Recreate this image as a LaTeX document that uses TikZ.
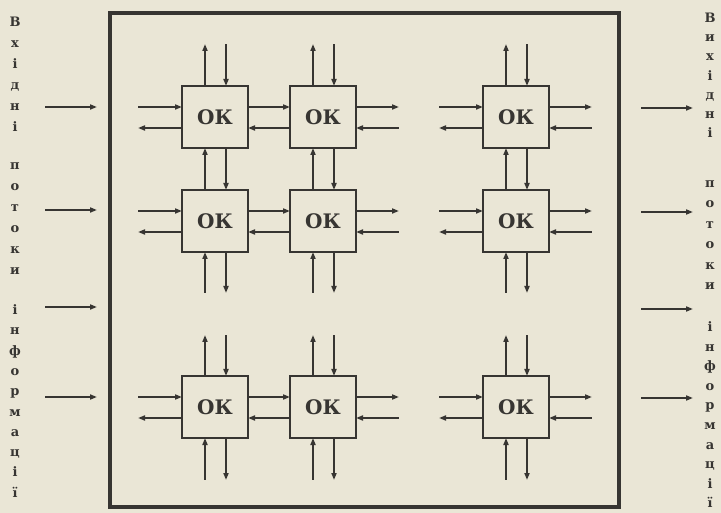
\documentclass[tikz,border=0pt]{standalone}
\usepackage{fontspec}
\setmainfont{DejaVu Serif}
\usetikzlibrary{arrows.meta}
\definecolor{paper}{RGB}{234,230,214}
\definecolor{ink}{RGB}{55,53,50}
\tikzset{
  okbox/.style={draw=ink, line width=2pt, fill=paper, minimum width=66pt, minimum height=62pt, inner sep=0pt, outer sep=0pt, text=ink, font=\bfseries\fontsize{20}{20}\selectfont},
  wire/.style={draw=ink, line width=2pt},
  arrout/.style={wire, -{Triangle[length=7pt,width=5pt]}},
  arrin/.style={wire, {Triangle[length=7pt,width=5pt]}-},
  frame/.style={draw=ink, line width=4pt},
  side/.style={inner sep=0pt, text=ink, text height=9pt, text depth=0pt, font=\bfseries\fontsize{13}{13}\selectfont}
}
\begin{document}
\begin{tikzpicture}[x=1pt,y=-1pt]
\fill[paper] (0,0) rectangle (721,513);
\useasboundingbox (0,0) rectangle (721,513);
% frame
\draw[frame] (110,13) rectangle (619,507);
% boxes
\foreach \r/\yy in {1/117,2/221,3/407}{
  \foreach \c/\xx in {1/215,2/323,3/516}{
    \node[okbox] (b\r\c) at (\xx,\yy) {ОК};
  }
}
% horizontal connectors
\foreach \r in {1,2,3}{
  % left of columns 1 and 3
  \foreach \c in {1,3}{
    \draw[arrin]  ([yshift=10pt]b\r\c.west) -- ++(-44,0);
    \draw[arrout] ([yshift=-11pt]b\r\c.west) -- ++(-44,0);
  }
  % right of columns 2 and 3
  \foreach \c in {2,3}{
    \draw[arrout] ([yshift=10pt]b\r\c.east) -- ++(43,0);
    \draw[arrin]  ([yshift=-11pt]b\r\c.east) -- ++(43,0);
  }
  % between columns 1 and 2
  \draw[arrout] ([yshift=10pt]b\r1.east) -- ([yshift=10pt]b\r2.west);
  \draw[arrout] ([yshift=-11pt]b\r2.west) -- ([yshift=-11pt]b\r1.east);
}
% vertical connectors
\foreach \c in {1,2,3}{
  % top of row 1
  \draw[arrout] ([xshift=-10pt]b1\c.north) -- ++(0,-42);
  \draw[arrin]  ([xshift=11pt]b1\c.north) -- ++(0,-42);
  % between rows 1 and 2
  \draw[arrout] ([xshift=-10pt]b2\c.north) -- ([xshift=-10pt]b1\c.south);
  \draw[arrout] ([xshift=11pt]b1\c.south) -- ([xshift=11pt]b2\c.north);
  % below row 2
  \draw[arrin]  ([xshift=-10pt]b2\c.south) -- ++(0,41);
  \draw[arrout] ([xshift=11pt]b2\c.south) -- ++(0,41);
  % above row 3
  \draw[arrout] ([xshift=-10pt]b3\c.north) -- ++(0,-41);
  \draw[arrin]  ([xshift=11pt]b3\c.north) -- ++(0,-41);
  % below row 3
  \draw[arrin]  ([xshift=-10pt]b3\c.south) -- ++(0,42);
  \draw[arrout] ([xshift=11pt]b3\c.south) -- ++(0,42);
}
% external input / output arrows
\foreach \k/\yy in {1/107,2/210,3/307,4/397}{
  \coordinate (inA\k) at (45,\yy);
  \coordinate (inB\k) at (97,\yy);
  \draw[arrout] (inA\k) -- (inB\k);
}
\foreach \k/\yy in {1/108,2/212,3/309,4/398}{
  \coordinate (outA\k) at (641,\yy);
  \coordinate (outB\k) at (693,\yy);
  \draw[arrout] (outA\k) -- (outB\k);
}
% left vertical text
\foreach \l [count=\i from 0] in {В,х,і,д,н,і}
  \node[side] (lw1\i) at (15,{22+\i*21}) {\l};
\foreach \l [count=\i from 0] in {п,о,т,о,к,и}
  \node[side] (lw2\i) at (15,{165+\i*21}) {\l};
\foreach \l [count=\i from 0] in {і,н,ф,о,р,м,а,ц,і,ї}
  \node[side] (lw3\i) at (15,{310+\i*20.3}) {\l};
% right vertical text
\foreach \l [count=\i from 0] in {В,и,х,і,д,н,і}
  \node[side] (rw1\i) at (710,{18+\i*19.2}) {\l};
\foreach \l [count=\i from 0] in {п,о,т,о,к,и}
  \node[side] (rw2\i) at (710,{183+\i*20.4}) {\l};
\foreach \l [count=\i from 0] in {і,н,ф,о,р,м,а,ц,і,ї}
  \node[side] (rw3\i) at (710,{327+\i*19.6}) {\l};
\end{tikzpicture}
\end{document}
